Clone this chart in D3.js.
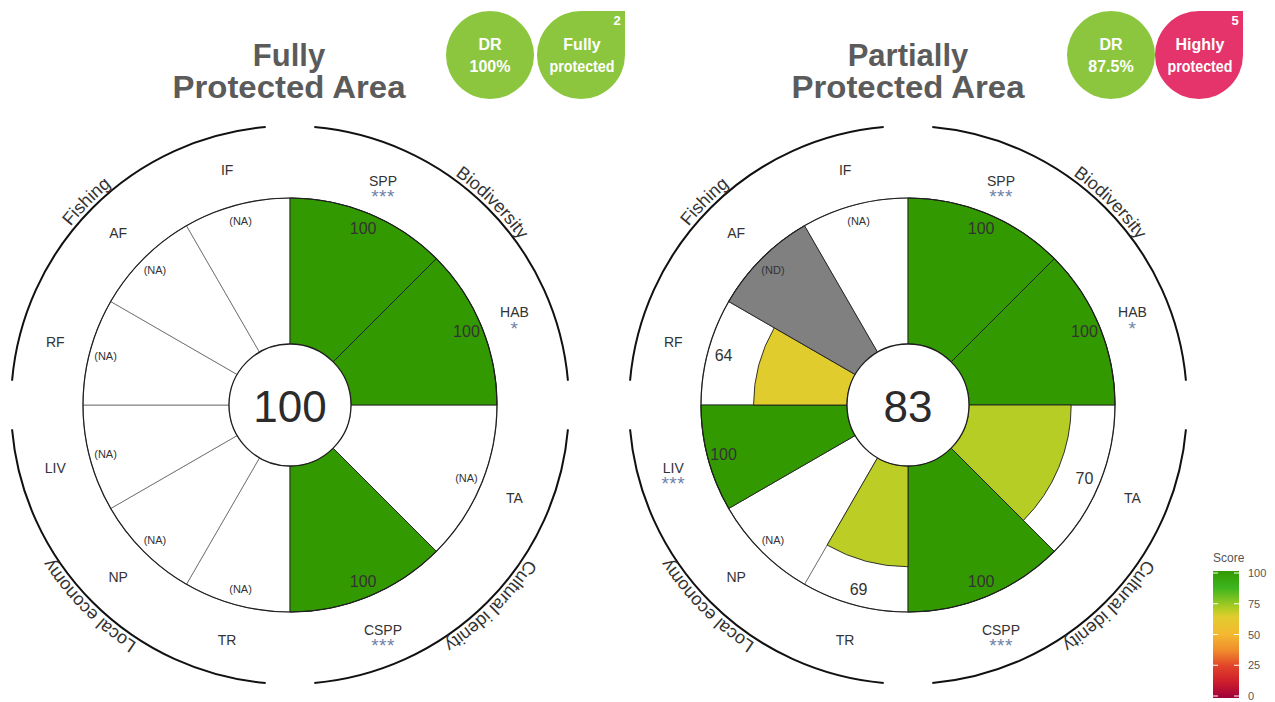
<!DOCTYPE html>
<meta charset="utf-8">
<style>
  body { margin: 0; background: #fff; }
  text { font-family: "Liberation Sans", Arial, sans-serif; }
</style>
<svg width="1275" height="702"></svg>

<script src="https://d3js.org/d3.v7.min.js"></script>
<script>

    // indicators, clockwise from 12 o'clock
    var indicators = ['SPP', 'HAB', 'TA', 'CSPP', 'TR', 'NP', 'LIV', 'RF', 'AF', 'IF']
    var indicatorDim = [0, 0, 1, 1, 2, 2, 2, 3, 3, 3]
    var dimensions = ['Biodiversity', 'Cultural idenity', 'Local economy', 'Fishing']

    var fullScores = [100, 100, 'NA', 100, 'NA', 'NA', 'NA', 'NA', 'NA', 'NA']
    var fullStars = ['***', '*', '', '***', '', '', '', '', '', '']
    var partialScores = [100, 100, 70, 100, 69, 'NA', 100, 64, 'ND', 'NA']
    var partialStars = ['***', '*', '', '***', '', '', '***', '', '', '']

    var overallScores = [100, 83]
    var titles = [['Fully', 'Protected Area'], ['Partially', 'Protected Area']]
    var drValues = ['100%', '87.5%']
    var protectionLabels = [['Fully', 'protected'], ['Highly', 'protected']]
    var protectionLevels = [2, 5]
    var protectionColors = ['#8cc63f', '#e5336b']

    var legendTicks = [0, 25, 50, 75, 100]
    var colorStops = [0, 12, 25, 37, 50, 64, 70, 87, 100]
    var colorValues = ['#9e0039', '#cc1c2c', '#e2432a', '#f08a2c', '#f4b930', '#e1cc2e', '#b5cd24', '#3cb51e', '#339900']

    var svg = d3.select('svg')

    var R = 207, r0 = 61
    var radius = d3.scaleLinear().domain([0, 100]).range([r0, R])
    var color = d3.scaleLinear().domain(colorStops).range(colorValues)

    // angles: every dimension takes a quarter, split between its indicators
    var sectors = indicators.map(function (name, i) {
        var dim = indicatorDim[i]
        var members = indicatorDim.filter(function (d) { return d === dim })
        var k = indicatorDim.slice(0, i).filter(function (d) { return d === dim }).length
        var step = (Math.PI / 2) / members.length
        var start = dim * Math.PI / 2 + k * step
        return { name: name, start: start, end: start + step, mid: start + step / 2 }
    })

    function polar(r, a) { return [r * Math.sin(a), -r * Math.cos(a)] }

    function drawChart(cx, cy, scores, stars, overall, id) {
        var g = svg.append('g').attr('transform', 'translate(' + cx + ',' + cy + ')')
        var arc = d3.arc()

        // white background wedges
        g.selectAll('path.bg').data(sectors).enter().append('path')
            .attr('class', 'bg')
            .attr('d', function (s) { return arc({ innerRadius: r0, outerRadius: R, startAngle: s.start, endAngle: s.end }) })
            .attr('fill', '#fff')
            .attr('stroke', '#666')
            .attr('stroke-width', 0.8)

        // score wedges
        g.selectAll('path.score').data(sectors.filter(function (s, i) { return scores[i] !== 'NA' }))
            .enter().append('path')
            .attr('class', 'score')
            .attr('d', function (s) {
                var v = scores[indicators.indexOf(s.name)]
                var outer = v === 'ND' ? R : radius(v)
                return arc({ innerRadius: r0, outerRadius: outer, startAngle: s.start, endAngle: s.end })
            })
            .attr('fill', function (s) {
                var v = scores[indicators.indexOf(s.name)]
                return v === 'ND' ? '#808080' : color(v)
            })
            .attr('stroke', '#1f1f1f')
            .attr('stroke-width', 0.9)

        g.append('circle').attr('r', R).attr('fill', 'none').attr('stroke', '#1f1f1f').attr('stroke-width', 1.2)
        g.append('circle').attr('r', r0).attr('fill', '#fff').attr('stroke', '#1f1f1f').attr('stroke-width', 1.3)
        g.append('text').attr('y', 1).attr('text-anchor', 'middle').attr('dominant-baseline', 'central')
            .attr('font-size', 44).attr('fill', '#2b2b2b').text(overall)

        // value labels
        g.selectAll('text.val').data(sectors).enter().append('text')
            .attr('class', 'val')
            .attr('x', function (s) { return polar(191, s.mid)[0] })
            .attr('y', function (s) { return polar(191, s.mid)[1] })
            .attr('text-anchor', 'middle').attr('dominant-baseline', 'central')
            .attr('font-size', function (s, i) { return typeof scores[i] === 'number' ? 16 : 11 })
            .attr('fill', '#333')
            .text(function (s, i) { return typeof scores[i] === 'number' ? scores[i] : '(' + scores[i] + ')' })

        // indicator labels
        g.selectAll('text.ind').data(sectors).enter().append('text')
            .attr('class', 'ind')
            .attr('x', function (s) { return polar(243, s.mid)[0] })
            .attr('y', function (s) { return polar(243, s.mid)[1] })
            .attr('text-anchor', 'middle').attr('dominant-baseline', 'central')
            .attr('font-size', 14).attr('fill', '#333')
            .text(function (s) { return s.name })
        g.selectAll('text.star').data(sectors).enter().append('text')
            .attr('class', 'star')
            .attr('x', function (s) { return polar(243, s.mid)[0] })
            .attr('y', function (s) { return polar(243, s.mid)[1] + 16 })
            .attr('text-anchor', 'middle').attr('dominant-baseline', 'central')
            .attr('font-size', 19).attr('letter-spacing', 0.5).attr('fill', '#7082aa')
            .text(function (s, i) { return stars[i] })

        // dimension arcs and curved names
        var gap = 5 * Math.PI / 180
        dimensions.forEach(function (d, j) {
            g.append('path')
                .attr('d', d3.arc()({ innerRadius: 279, outerRadius: 279, startAngle: j * Math.PI / 2 + gap, endAngle: (j + 1) * Math.PI / 2 - gap }))
                .attr('fill', 'none').attr('stroke', '#111').attr('stroke-width', 2)
        })
        g.append('path').attr('id', 'ring' + id)
            .attr('d', 'M0,-283 A283,283 0 1,1 0,283 A283,283 0 1,1 0,-283')
            .attr('fill', 'none')
        dimensions.forEach(function (d, j) {
            g.append('text').attr('font-size', 18).attr('fill', '#333')
                .append('textPath')
                .attr('href', '#ring' + id)
                .attr('startOffset', (j * 25 + 12.5) + '%')
                .attr('text-anchor', 'middle')
                .text(d)
        })
    }

    drawChart(290, 405, fullScores, fullStars, overallScores[0], 'a')
    drawChart(908, 405, partialScores, partialStars, overallScores[1], 'b')

    // titles
    var titleX = [289, 908]
    titles.forEach(function (t, i) {
        svg.append('text').attr('x', titleX[i]).attr('y', 66).attr('text-anchor', 'middle')
            .attr('font-family', 'Lato, "DejaVu Sans", sans-serif').attr('font-weight', 700)
            .attr('font-size', 31).attr('fill', '#5b5b5b').text(t[0])
        svg.append('text').attr('x', titleX[i]).attr('y', 98).attr('text-anchor', 'middle')
            .attr('font-family', 'Lato, "DejaVu Sans", sans-serif').attr('font-weight', 700)
            .attr('font-size', 31).attr('fill', '#5b5b5b')
            .attr('textLength', 233).attr('lengthAdjust', 'spacingAndGlyphs').text(t[1])
    })

    // DR and protection badges
    var badgeX = [[490, 581], [1111, 1199]]
    var br = 44, by = 55
    drValues.forEach(function (dr, i) {
        var bx = badgeX[i][0], px = badgeX[i][1]
        svg.append('circle').attr('cx', bx).attr('cy', by).attr('r', br).attr('fill', '#8cc63f')
        svg.append('path')
            .attr('d', 'M' + (px - br) + ',' + by + ' A' + br + ',' + br + ' 0 0,1 ' + px + ',' + (by - br) +
                ' L' + (px + br) + ',' + (by - br) + ' L' + (px + br) + ',' + by +
                ' A' + br + ',' + br + ' 0 0,1 ' + px + ',' + (by + br) +
                ' A' + br + ',' + br + ' 0 0,1 ' + (px - br) + ',' + by + ' Z')
            .attr('fill', protectionColors[i])
        var font = '"Liberation Sans Narrow", "Roboto Condensed", Roboto, sans-serif'
        var lines = [['DR', dr, bx], [protectionLabels[i][0], protectionLabels[i][1], px + 1]]
        lines.forEach(function (l) {
            svg.append('text').attr('x', l[2]).attr('y', 44).attr('text-anchor', 'middle').attr('dominant-baseline', 'central')
                .attr('font-family', font).attr('font-weight', 700).attr('font-size', 16).attr('fill', '#fff').text(l[0])
            var t2 = svg.append('text').attr('x', l[2]).attr('y', 66).attr('text-anchor', 'middle').attr('dominant-baseline', 'central')
                .attr('font-family', font).attr('font-weight', 700).attr('font-size', 16).attr('fill', '#fff').text(l[1])
            if (l[1] === 'protected') t2.attr('textLength', 65).attr('lengthAdjust', 'spacingAndGlyphs')
        })
        svg.append('text').attr('x', px + br - 8).attr('y', by - br + 9).attr('text-anchor', 'middle').attr('dominant-baseline', 'central')
            .attr('font-weight', 700).attr('font-size', 13).attr('fill', '#fff').text(protectionLevels[i])
    })

    // colour legend
    var defs = svg.append('defs')
    var grad = defs.append('linearGradient').attr('id', 'scoreGrad').attr('x1', 0).attr('x2', 0).attr('y1', 1).attr('y2', 0)
    colorStops.forEach(function (s, i) {
        grad.append('stop').attr('offset', s + '%').attr('stop-color', colorValues[i])
    })
    var ly = d3.scaleLinear().domain([0, 100]).range([696, 573])
    svg.append('text').attr('x', 1213).attr('y', 562).attr('font-size', 12).attr('fill', '#555').text('Score')
    svg.append('rect').attr('x', 1213).attr('y', 571).attr('width', 26).attr('height', 127).attr('fill', 'url(#scoreGrad)')
    var legend = svg.append('g').attr('transform', 'translate(1239,0)')
    var axis = d3.axisRight(ly).tickValues(legendTicks).tickSize(0).tickPadding(9)
    legend.call(axis)
    legend.select('.domain').remove()
    legend.selectAll('text').attr('font-size', 11).attr('fill', '#555').attr('font-family', '"Liberation Sans", Arial, sans-serif')
    legendTicks.forEach(function (t) {
        svg.append('line').attr('x1', 1213).attr('x2', 1218).attr('y1', ly(t)).attr('y2', ly(t)).attr('stroke', '#fff').attr('stroke-width', 1)
        svg.append('line').attr('x1', 1234).attr('x2', 1239).attr('y1', ly(t)).attr('y2', ly(t)).attr('stroke', '#fff').attr('stroke-width', 1)
    })

</script>
